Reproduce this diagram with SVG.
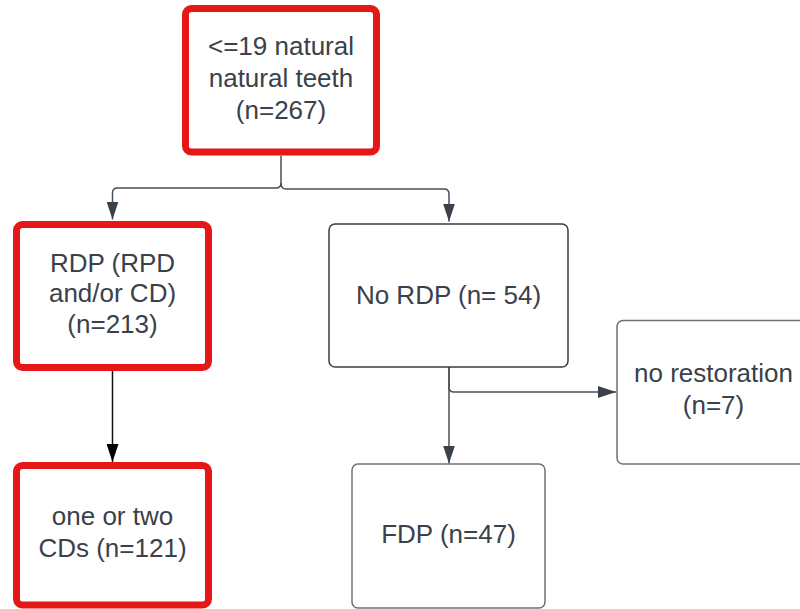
<svg xmlns="http://www.w3.org/2000/svg" width="800" height="609" viewBox="0 0 800 609">
  <style>
    .red { fill: #ffffff; stroke: #e61717; stroke-width: 7; }
    .gray { fill: #ffffff; stroke: #6f7277; stroke-width: 1.5; }
    .dark { fill: #ffffff; stroke: #3a3d42; stroke-width: 1.5; }
    .txt { font-family: "Liberation Sans", Arial, sans-serif; font-size: 26px; fill: #3a414a; text-anchor: middle; }
    .conn { fill: none; stroke: #4a5058; stroke-width: 1.5; }
    .connb { fill: none; stroke: #111111; stroke-width: 1.5; }
  </style>
  <defs>
    <marker id="arr" markerUnits="userSpaceOnUse" markerWidth="18" markerHeight="12" refX="18" refY="6" orient="auto" viewBox="0 0 18 12">
      <path d="M0,0 L18,6 L0,12 z" fill="#3a414a"/>
    </marker>
    <marker id="arrb" markerUnits="userSpaceOnUse" markerWidth="18" markerHeight="12" refX="18" refY="6" orient="auto" viewBox="0 0 18 12">
      <path d="M0,0 L18,6 L0,12 z" fill="#000000"/>
    </marker>
  </defs>

  <g id="connectors">
    <path class="conn" d="M281,155.5 V183 Q281,188 276,188 H117.5 Q112.5,188 112.5,193 V219.5" marker-end="url(#arr)"/>
    <path class="conn" d="M281,183 Q281,189 286,189 H444 Q449,189 449,194 V221.5" marker-end="url(#arr)"/>
    <path class="connb" d="M112.5,371 V462" marker-end="url(#arrb)"/>
    <path class="conn" d="M449,367 V463.5" marker-end="url(#arr)"/>
    <path class="conn" d="M449,367 V387 Q449,392 454,392 H616" marker-end="url(#arr)"/>
  </g>

  <g id="node-top">
    <rect class="red" x="185.5" y="8.5" width="191" height="143.5" rx="6"/>
    <text class="txt" x="281" y="55">&lt;=19 natural</text>
    <text class="txt" x="281" y="87">natural teeth</text>
    <text class="txt" x="281" y="118.5">(n=267)</text>
  </g>

  <g id="node-rdp">
    <rect class="red" x="16.5" y="224.5" width="192" height="143" rx="6"/>
    <text class="txt" x="112.5" y="271.5">RDP (RPD</text>
    <text class="txt" x="112.5" y="302">and/or CD)</text>
    <text class="txt" x="112.5" y="333">(n=213)</text>
  </g>

  <g id="node-cds">
    <rect class="red" x="16.5" y="465.5" width="192" height="139.5" rx="6"/>
    <text class="txt" x="112.5" y="525">one or two</text>
    <text class="txt" x="112.5" y="556.5">CDs (n=121)</text>
  </g>

  <g id="node-nordp">
    <rect class="dark" x="329" y="224" width="239" height="143" rx="6"/>
    <text class="txt" x="448.5" y="304">No RDP (n= 54)</text>
  </g>

  <g id="node-fdp">
    <rect class="gray" x="352" y="464" width="193" height="144" rx="6"/>
    <text class="txt" x="448.5" y="543">FDP (n=47)</text>
  </g>

  <g id="node-norest">
    <rect class="gray" x="617" y="320.5" width="195" height="143.5" rx="6"/>
    <text class="txt" x="713.5" y="382">no restoration</text>
    <text class="txt" x="713.5" y="413.5">(n=7)</text>
  </g>
</svg>
